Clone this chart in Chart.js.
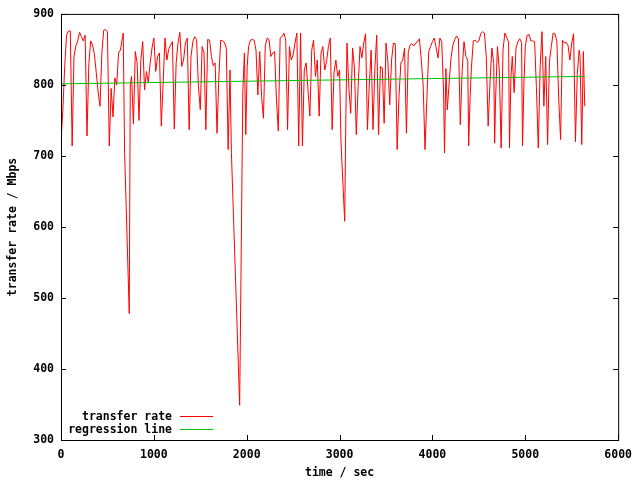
<!DOCTYPE html>
<html>
<head>
<meta charset="utf-8">
<title>transfer rate</title>
<script src="https://cdn.jsdelivr.net/npm/chart.js@4.4.1/dist/chart.umd.min.js"></script>
<style>
  html, body { margin: 0; padding: 0; background: #fff; }
</style>
</head>
<body>
<canvas id="chart" width="640" height="480"></canvas>
<script>
// 測定データ (sec, Mbps)
const sampleTimes = [
    0, 20, 40, 60, 80, 100, 120, 140, 160, 180,
    200, 220, 240, 260, 280, 300, 320, 340, 360, 380,
    400, 420, 440, 460, 480, 500, 520, 540, 560, 580,
    600, 620, 640, 670, 685, 735, 746, 760, 780, 800,
    820, 840, 860, 880, 900, 920, 940, 960, 980, 1000,
    1020, 1040, 1060, 1080, 1100, 1120, 1140, 1160, 1180, 1200,
    1220, 1240, 1260, 1280, 1300, 1320, 1340, 1360, 1380, 1400,
    1420, 1440, 1460, 1480, 1500, 1520, 1540, 1560, 1580, 1600,
    1620, 1640, 1660, 1680, 1700, 1720, 1740, 1760, 1780, 1800,
    1820, 1835, 1924, 1958, 1975, 1990, 2005,
    2020, 2040, 2060, 2080, 2100, 2120, 2140, 2160, 2180, 2200,
    2220, 2240, 2260, 2280, 2300, 2320, 2340, 2360, 2380, 2400,
    2420, 2440, 2460, 2480, 2500, 2520, 2540, 2560, 2580, 2600,
    2620, 2640, 2660, 2680, 2700, 2720, 2740, 2760, 2780, 2800,
    2820, 2840, 2860, 2880, 2900, 2920, 2940, 2960, 2980, 3000,
    3015, 3055, 3068, 3080, 3100, 3120, 3140, 3160, 3180, 3200,
    3220, 3240, 3260, 3280, 3300, 3320, 3340, 3360, 3380, 3400,
    3420, 3440, 3460, 3480, 3500, 3520, 3540, 3560, 3580, 3600,
    3620, 3640, 3660, 3680, 3700, 3720, 3740, 3760, 3780, 3800,
    3820, 3840, 3860, 3880, 3900, 3920, 3940, 3960, 3980, 4000,
    4020, 4040, 4060, 4080, 4100, 4120, 4130, 4145, 4160, 4180,
    4200, 4220, 4240, 4260, 4280, 4300, 4320, 4340, 4360, 4380,
    4390, 4405, 4420, 4440, 4460, 4480, 4500, 4520, 4540, 4560,
    4580, 4600, 4620, 4640, 4660, 4670, 4680, 4700, 4720, 4740,
    4760, 4780, 4800, 4820, 4830, 4845, 4860, 4880, 4900, 4920,
    4940, 4960, 4970, 4985, 5000, 5020, 5040, 5060, 5080, 5100,
    5120, 5140, 5160, 5180, 5200, 5220, 5240, 5260, 5280, 5300,
    5320, 5340, 5360, 5380, 5400, 5420, 5440, 5460, 5480, 5500,
    5520, 5540, 5560, 5580, 5590, 5608, 5625, 5640
];
const transferRates = [
    720, 765, 826, 870, 876, 876, 714, 840, 855, 862,
    874, 868, 862, 870, 728, 830, 862, 856, 843, 817,
    790, 770, 845, 877, 878, 875, 714, 795, 755, 810,
    800, 845, 849, 873, 705, 478, 800, 812, 745, 847,
    831, 750, 835, 861, 793, 819, 803, 831, 852, 866,
    819, 840, 845, 742, 803, 866, 835, 850, 856, 861,
    738, 831, 859, 874, 826, 835, 859, 866, 737, 840,
    861, 868, 864, 798, 765, 854, 845, 737, 864, 863,
    840, 827, 831, 732, 812, 863, 862, 860, 852, 709,
    821, 705, 349, 790, 845, 730, 826,
    854, 863, 864, 863, 849, 786, 847, 784, 753, 855,
    866, 864, 840, 845, 847, 780, 735, 866, 868, 873,
    863, 737, 854, 835, 842, 859, 873, 714, 873, 714,
    821, 831, 793, 756, 849, 863, 812, 835, 756, 845,
    854, 821, 833, 854, 866, 737, 817, 835, 812, 821,
    720, 608, 760, 859, 795, 760, 852, 824, 730, 798,
    854, 838, 859, 872, 737, 800, 849, 737, 824, 870,
    730, 826, 824, 746, 859, 833, 772, 835, 859, 858,
    709, 784, 831, 835, 852, 732, 847, 856, 858, 855,
    859, 861, 865, 835, 800, 709, 780, 847, 854, 861,
    866, 852, 838, 866, 861, 790, 704, 823, 765, 803,
    838, 856, 864, 869, 865, 744, 820, 861, 840, 835,
    714, 780, 824, 862, 863, 860, 862, 872, 875, 873,
    840, 742, 803, 852, 830, 718, 780, 854, 821, 711,
    849, 873, 867, 860, 711, 810, 840, 789, 852, 861,
    865, 860, 714, 800, 854, 870, 871, 862, 862, 861,
    796, 711, 826, 875, 770, 840, 716, 833, 854, 873,
    872, 861, 780, 723, 863, 859, 860, 856, 835, 859,
    872, 720, 815, 849, 840, 716, 847, 770
];

// 回帰直線
const regressionTimes = [0, 5640];
const regressionRates = [801.5, 812];

// 軸
const xTickValues = [0, 1000, 2000, 3000, 4000, 5000, 6000];
const yTickValues = [300, 400, 500, 600, 700, 800, 900];

const labelFont = { family: 'DejaVu Sans Mono', size: 11.5, weight: 'bold' };

function toPoints(xs, ys) {
    return xs.map((x, i) => ({ x: x, y: ys[i] }));
}

// 枠と内向きの目盛り、凡例
const gnuplotFrame = {
    id: 'gnuplotFrame',
    afterDraw(chart) {
        const { ctx, chartArea: a, scales } = chart;
        ctx.save();
        ctx.strokeStyle = '#000';
        ctx.lineWidth = 1;
        ctx.strokeRect(a.left + 0.5, a.top + 0.5, a.right - a.left, a.bottom - a.top);

        ctx.beginPath();
        xTickValues.forEach(v => {
            const px = Math.round(scales.x.getPixelForValue(v)) + 0.5;
            ctx.moveTo(px, a.bottom);
            ctx.lineTo(px, a.bottom - 5);
            ctx.moveTo(px, a.top);
            ctx.lineTo(px, a.top + 5);
        });
        yTickValues.forEach(v => {
            const py = Math.round(scales.y.getPixelForValue(v)) + 0.5;
            ctx.moveTo(a.left, py);
            ctx.lineTo(a.left + 5, py);
            ctx.moveTo(a.right, py);
            ctx.lineTo(a.right - 5, py);
        });
        ctx.stroke();

        // 凡例
        ctx.font = 'bold 11.5px "DejaVu Sans Mono"';
        ctx.fillStyle = '#000';
        ctx.textAlign = 'right';
        ctx.textBaseline = 'middle';
        chart.data.datasets.forEach((ds, i) => {
            const y = 417 + i * 13;
            ctx.fillText(ds.label, 172, y);
            ctx.strokeStyle = ds.borderColor;
            ctx.beginPath();
            ctx.moveTo(180, y - 0.5);
            ctx.lineTo(213, y - 0.5);
            ctx.stroke();
        });
        ctx.restore();
    }
};

new Chart(document.getElementById('chart'), {
    type: 'scatter',
    data: {
        datasets: [
            {
                label: 'transfer rate',
                data: toPoints(sampleTimes, transferRates),
                showLine: true,
                borderColor: '#ff0000',
                borderWidth: 1,
                pointRadius: 0,
                tension: 0,
                order: 2
            },
            {
                label: 'regression line',
                data: toPoints(regressionTimes, regressionRates),
                showLine: true,
                borderColor: '#00c000',
                borderWidth: 1,
                pointRadius: 0,
                order: 1
            }
        ]
    },
    options: {
        responsive: false,
        animation: false,
        layout: { padding: { top: 13, right: 20, left: 0, bottom: 0 } },
        plugins: {
            legend: { display: false },
            tooltip: { enabled: false }
        },
        scales: {
            x: {
                type: 'linear',
                min: 0,
                max: 6000,
                grid: { display: false, drawTicks: false },
                border: { display: false },
                ticks: {
                    stepSize: 1000,
                    padding: 8,
                    color: '#000',
                    font: labelFont,
                    maxRotation: 0,
                    callback: v => String(v)
                },
                title: {
                    display: true,
                    text: 'time / sec',
                    color: '#000',
                    font: labelFont,
                    padding: { top: 0, bottom: 0 }
                },
                afterFit(scale) { scale.height = 40; }
            },
            y: {
                min: 300,
                max: 900,
                grid: { display: false, drawTicks: false },
                border: { display: false },
                ticks: {
                    stepSize: 100,
                    padding: 7,
                    color: '#000',
                    font: labelFont,
                    callback: v => String(v)
                },
                title: {
                    display: true,
                    text: 'transfer rate / Mbps',
                    color: '#000',
                    font: labelFont,
                    padding: { top: 6, bottom: 0 }
                },
                afterFit(scale) { scale.width = 61; }
            }
        }
    },
    plugins: [gnuplotFrame]
});
</script>
</body>
</html>
